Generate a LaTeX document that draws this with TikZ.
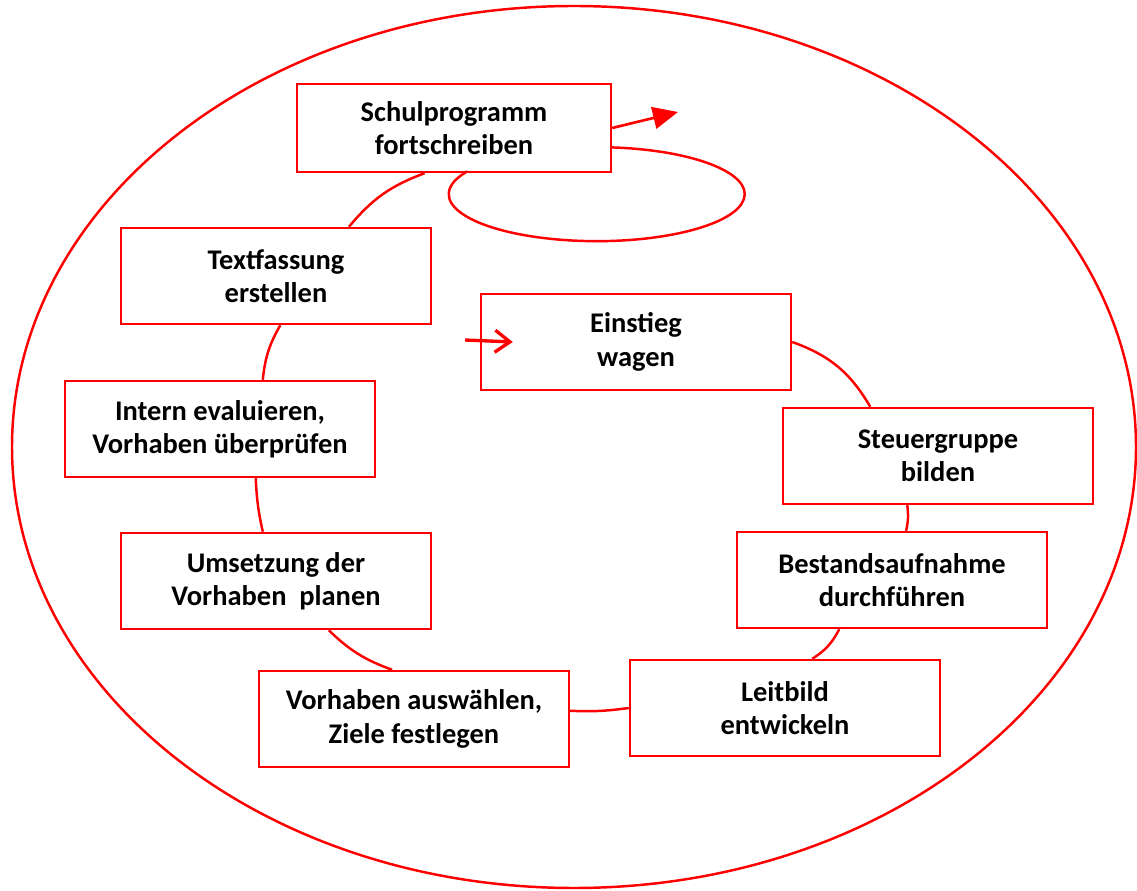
\documentclass[tikz,border=0pt]{standalone}
\usepackage{fontspec}
\setmainfont{Carlito}
\usepackage{xcolor}
\usepackage{tikz}
\usetikzlibrary{arrows.meta}
\definecolor{clrRed}{HTML}{FF0000}
\tikzset{
  stage box/.style={rectangle, draw=clrRed, fill=white, line width=1.4pt, minimum width=6.2cm, minimum height=1.92cm, inner sep=2pt, align=center, font=\fontsize{16.2}{19}\selectfont\bfseries},
  link/.style={draw=clrRed, line width=1.4pt},
  arr/.style={-{Triangle[length=0.5cm, width=0.44cm]}, draw=clrRed, line width=1.5pt},
  arr in/.style={-{Straight Barb[length=0.3cm, width=0.44cm]}, draw=clrRed, line width=1.9pt},
}

\begin{document}
\begin{tikzpicture}[x=0.02cm, y=0.02cm]
  \useasboundingbox (0,0) rectangle (1137,890);
  % outer ring
  \draw[link] (574,443) ellipse [x radius=562, y radius=441];

  % stages
  \node[stage box, minimum width=6.28cm, minimum height=1.76cm] (schul) at (454,762) {Schulprogramm\\fortschreiben};
  \node[stage box] (textf) at (276,614) {Textfassung\\erstellen};
  \node[stage box] (intern) at (220,461) {Intern evaluieren,\\Vorhaben überprüfen};
  \node[stage box] (umsetz) at (276,309) {Umsetzung der\\Vorhaben\ \ planen};
  \node[stage box] (auswahl) at (414,171) {Vorhaben auswählen,\\Ziele festlegen};
  \node[stage box] (leitbild) at (785,182) {Leitbild\\entwickeln};
  \node[stage box] (bestand) at (892,310) {Bestandsaufnahme\\durchführen};
  \node[stage box] (steuer) at (938,434) {Steuergruppe\\ bilden};
  \node[stage box] (einstieg) at (636,548) {Einstieg\\wagen};

  % cycle
  \draw[link] (einstieg.east) to[bend left=20] (steuer.144);
  \draw[link] (steuer.238) to[bend left=10] (bestand.74);
  \draw[link] (bestand.223) to[bend left=15] (leitbild.61);
  \draw[link] (leitbild.west) to[bend left=5] (auswahl.3);
  \draw[link] (auswahl.114) to[bend left=12] (umsetz.-43);
  \draw[link] (umsetz.105) to[bend left=5] (intern.-54);
  \draw[link] (intern.49) to[bend left=12] (textf.-85);
  \draw[link] (textf.34) to[bend left=15] (schul.237);

  % loop and exits
  \draw[link] (schul.-7) arc[start angle=84, end angle=-209, x radius=148, y radius=47];
  \coordinate (exit) at (678,778);
  \draw[arr] (schul.east) -- (exit);
  \coordinate (entry) at (465,550);
  \draw[arr in] (entry) -- ([xshift=0.66cm]einstieg.west);
\end{tikzpicture}
\end{document}
